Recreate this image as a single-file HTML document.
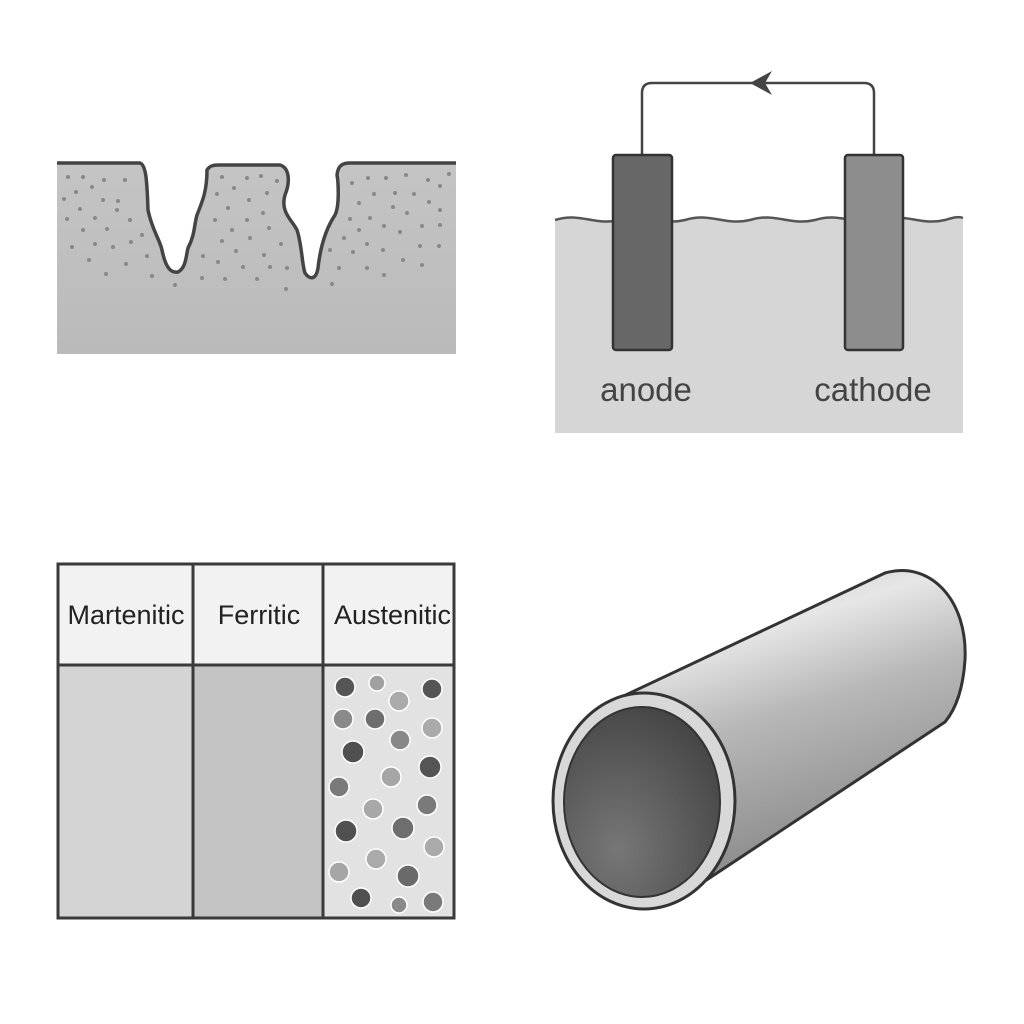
<!DOCTYPE html>
<html><head><style>html,body{margin:0;padding:0;background:#fff}svg{display:block}</style></head>
<body>
<svg width="1024" height="1024" viewBox="0 0 1024 1024" xmlns="http://www.w3.org/2000/svg" font-family="Liberation Sans, sans-serif">
<defs>
<linearGradient id="pit" x1="0" y1="0" x2="0" y2="1"><stop offset="0" stop-color="#c4c4c4"/><stop offset="1" stop-color="#bababa"/></linearGradient>
<linearGradient id="body" x1="0" y1="0" x2="0.35" y2="1"><stop offset="0" stop-color="#bcbcbc"/><stop offset="0.3" stop-color="#e6e6e6"/><stop offset="0.55" stop-color="#b8b8b8"/><stop offset="1" stop-color="#8a8a8a"/></linearGradient>
<radialGradient id="inner" cx="0.35" cy="0.75" r="0.8"><stop offset="0" stop-color="#777"/><stop offset="1" stop-color="#454545"/></radialGradient>
</defs>
<rect width="1024" height="1024" fill="#fff"/>

<!-- pitting -->
<path d="M57,163 L140,163 C146,165 147,180 148,210 C152,230 160,240 162,250 C166,270 172,273 178,272 C186,268 186,256 188,248 C195,235 194,225 197,215 C203,200 207,190 207,170 C210,165 215,165 220,165 L280,165 C290,168 290,183 285,195 C280,212 292,220 297,230 C302,245 302,265 305,273 C310,280 316,280 318,268 C320,250 325,230 335,215 C340,205 338,180 337,175 C338,165 343,163 350,163 L456,163 L456,354 L57,354 Z" fill="url(#pit)"/>
<path d="M57,163 L140,163 C146,165 147,180 148,210 C152,230 160,240 162,250 C166,270 172,273 178,272 C186,268 186,256 188,248 C195,235 194,225 197,215 C203,200 207,190 207,170 C210,165 215,165 220,165 L280,165 C290,168 290,183 285,195 C280,212 292,220 297,230 C302,245 302,265 305,273 C310,280 316,280 318,268 C320,250 325,230 335,215 C340,205 338,180 337,175 C338,165 343,163 350,163 L456,163" fill="none" stroke="#444" stroke-width="3.5"/>
<g fill="#888">
<circle cx="68" cy="177" r="2"/><circle cx="83" cy="177" r="2"/><circle cx="104" cy="180" r="2"/><circle cx="125" cy="180" r="2"/><circle cx="76" cy="192" r="2"/><circle cx="92" cy="187" r="2"/><circle cx="64" cy="199" r="2"/><circle cx="103" cy="200" r="2"/><circle cx="118" cy="201" r="2"/><circle cx="80" cy="209" r="2"/><circle cx="117" cy="210" r="2"/><circle cx="67" cy="219" r="2"/><circle cx="95" cy="218" r="2"/><circle cx="130" cy="220" r="2"/><circle cx="83" cy="230" r="2"/><circle cx="107" cy="229" r="2"/><circle cx="142" cy="235" r="2"/><circle cx="72" cy="247" r="2"/><circle cx="95" cy="244" r="2"/><circle cx="113" cy="247" r="2"/><circle cx="131" cy="242" r="2"/><circle cx="147" cy="256" r="2"/><circle cx="89" cy="260" r="2"/><circle cx="126" cy="264" r="2"/><circle cx="106" cy="274" r="2"/><circle cx="152" cy="276" r="2"/><circle cx="175" cy="285" r="2"/>
<circle cx="222" cy="177" r="2"/><circle cx="247" cy="178" r="2"/><circle cx="261" cy="176" r="2"/><circle cx="277" cy="181" r="2"/><circle cx="234" cy="188" r="2"/><circle cx="217" cy="194" r="2"/><circle cx="267" cy="193" r="2"/><circle cx="249" cy="200" r="2"/><circle cx="228" cy="208" r="2"/><circle cx="263" cy="213" r="2"/><circle cx="215" cy="220" r="2"/><circle cx="247" cy="220" r="2"/><circle cx="232" cy="230" r="2"/><circle cx="269" cy="228" r="2"/><circle cx="250" cy="238" r="2"/><circle cx="222" cy="241" r="2"/><circle cx="281" cy="244" r="2"/><circle cx="236" cy="251" r="2"/><circle cx="203" cy="256" r="2"/><circle cx="264" cy="255" r="2"/><circle cx="218" cy="262" r="2"/><circle cx="243" cy="267" r="2"/><circle cx="270" cy="267" r="2"/><circle cx="287" cy="268" r="2"/><circle cx="202" cy="278" r="2"/><circle cx="225" cy="279" r="2"/><circle cx="257" cy="279" r="2"/><circle cx="286" cy="289" r="2"/><circle cx="332" cy="284" r="2"/>
<circle cx="352" cy="183" r="2"/><circle cx="368" cy="178" r="2"/><circle cx="386" cy="178" r="2"/><circle cx="406" cy="175" r="2"/><circle cx="428" cy="180" r="2"/><circle cx="449" cy="174" r="2"/><circle cx="374" cy="194" r="2"/><circle cx="395" cy="193" r="2"/><circle cx="414" cy="194" r="2"/><circle cx="440" cy="186" r="2"/><circle cx="359" cy="203" r="2"/><circle cx="393" cy="207" r="2"/><circle cx="407" cy="213" r="2"/><circle cx="429" cy="202" r="2"/><circle cx="440" cy="210" r="2"/><circle cx="350" cy="219" r="2"/><circle cx="370" cy="218" r="2"/><circle cx="384" cy="226" r="2"/><circle cx="400" cy="232" r="2"/><circle cx="422" cy="226" r="2"/><circle cx="440" cy="225" r="2"/><circle cx="359" cy="230" r="2"/><circle cx="344" cy="238" r="2"/><circle cx="367" cy="244" r="2"/><circle cx="383" cy="250" r="2"/><circle cx="420" cy="246" r="2"/><circle cx="439" cy="246" r="2"/><circle cx="330" cy="250" r="2"/><circle cx="353" cy="252" r="2"/><circle cx="403" cy="260" r="2"/><circle cx="422" cy="265" r="2"/><circle cx="339" cy="268" r="2"/><circle cx="367" cy="268" r="2"/><circle cx="384" cy="275" r="2"/></g>

<!-- galvanic cell -->
<path d="M555,220 C580,212 595,226 620,220 C645,212 660,226 685,220 C710,212 725,226 750,220 C775,212 790,226 815,220 C840,212 855,226 880,220 C905,212 920,226 945,220 C952,218 958,216 963,218 L963,433 L555,433 Z" fill="#d6d6d6"/>
<path d="M555,220 C580,212 595,226 620,220 C645,212 660,226 685,220 C710,212 725,226 750,220 C775,212 790,226 815,220 C840,212 855,226 880,220 C905,212 920,226 945,220 C952,218 958,216 963,218" fill="none" stroke="#555" stroke-width="2.5"/>
<path d="M642,155 L642,93 Q642,83 652,83 L864,83 Q874,83 874,93 L874,155" fill="none" stroke="#444" stroke-width="2.5"/>
<path d="M750,83 L772,71 L765,83 L772,95 Z" fill="#444"/>
<rect x="613" y="155" width="59" height="195" rx="3" fill="#676767" stroke="#333" stroke-width="2.5"/>
<rect x="845" y="155" width="58" height="195" rx="3" fill="#8d8d8d" stroke="#333" stroke-width="2.5"/>
<text x="646" y="401" font-size="33" fill="#444" text-anchor="middle">anode</text>
<text x="873" y="401" font-size="33" fill="#444" text-anchor="middle">cathode</text>

<!-- table -->
<rect x="57" y="563" width="398" height="102" fill="#f2f2f2"/>
<rect x="57" y="665" width="136" height="253" fill="#d4d4d4"/>
<rect x="193" y="665" width="130" height="253" fill="#c4c4c4"/>
<rect x="323" y="665" width="132" height="253" fill="#e2e2e2"/>
<g fill="none" stroke="#3a3a3a" stroke-width="3">
<rect x="58" y="564" width="396" height="354"/>
<line x1="58" y1="665" x2="454" y2="665"/><line x1="193" y1="564" x2="193" y2="918"/><line x1="323" y1="564" x2="323" y2="918"/></g>
<g font-size="27" fill="#222" text-anchor="middle"><text x="126" y="624">Martenitic</text><text x="259" y="624">Ferritic</text></g>
<svg x="324" y="564" width="130" height="100"><text x="10" y="60" font-size="27" fill="#222">Austenitic</text></svg>
<g stroke="#fff" stroke-width="1.5">
<circle cx="345" cy="687" r="10" fill="#555"/><circle cx="377" cy="683" r="8" fill="#a0a0a0"/><circle cx="399" cy="701" r="10" fill="#aaa"/><circle cx="432" cy="689" r="10" fill="#555"/><circle cx="343" cy="719" r="10" fill="#8a8a8a"/><circle cx="375" cy="719" r="10" fill="#6e6e6e"/><circle cx="432" cy="728" r="10" fill="#aaa"/><circle cx="400" cy="740" r="10" fill="#888"/><circle cx="353" cy="752" r="11" fill="#505050"/><circle cx="430" cy="767" r="11" fill="#555"/><circle cx="391" cy="777" r="10" fill="#a6a6a6"/><circle cx="339" cy="787" r="10" fill="#7a7a7a"/><circle cx="373" cy="809" r="10" fill="#a8a8a8"/><circle cx="427" cy="805" r="10" fill="#7a7a7a"/><circle cx="346" cy="831" r="11" fill="#505050"/><circle cx="403" cy="828" r="11" fill="#6e6e6e"/><circle cx="434" cy="847" r="10" fill="#aaa"/><circle cx="376" cy="859" r="10" fill="#aaa"/><circle cx="339" cy="872" r="10" fill="#a6a6a6"/><circle cx="408" cy="876" r="11" fill="#6a6a6a"/><circle cx="361" cy="898" r="10" fill="#505050"/><circle cx="399" cy="905" r="8" fill="#8a8a8a"/><circle cx="433" cy="902" r="10" fill="#7a7a7a"/></g>

<!-- pipe -->
<path d="M613,701 L885,573 C930,560 968,600 965,660 C963,690 955,710 945,722 L705,881 Z" fill="url(#body)" stroke="#333" stroke-width="3" stroke-linejoin="round"/>
<ellipse cx="644" cy="801" rx="91" ry="108" fill="#d8d8d8" stroke="#333" stroke-width="3"/>
<ellipse cx="642" cy="802" rx="78" ry="95" fill="url(#inner)" stroke="#333" stroke-width="2"/>
</svg>
</body></html>
